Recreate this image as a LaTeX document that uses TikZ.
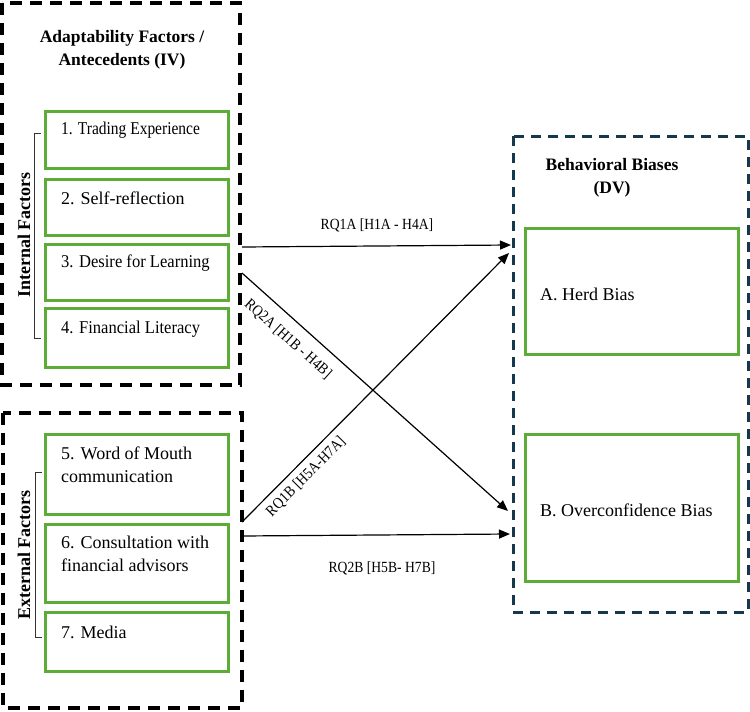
\documentclass[tikz,border=0pt]{standalone}
\usepackage{fontspec}
\setmainfont{Liberation Serif}
\usetikzlibrary{arrows.meta}
\definecolor{boxgreen}{RGB}{92,172,56}
\definecolor{darkblue}{RGB}{22,56,76}
\tikzset{
  outerbox/.style={draw=black, line width=3.5pt, dash pattern=on 12pt off 8pt},
  dvbox/.style={draw=darkblue, line width=3pt, dash pattern=on 10pt off 7pt},
  greenbox/.style={draw=boxgreen, line width=3pt},
  itemtext/.style={anchor=west, inner sep=0pt, font=\fontsize{18}{23}\selectfont, align=left},
  titletext/.style={inner sep=0pt, font=\bfseries\fontsize{17.5}{23}\selectfont, align=center},
  sidetext/.style={inner sep=0pt, font=\bfseries\fontsize{18}{22}\selectfont, rotate=90},
  rqtext/.style={inner sep=0pt, font=\fontsize{15.5}{18}\selectfont},
  rqarrow/.style={-{Triangle[length=11pt,width=9pt]}, line width=1.2pt},
  bracket/.style={draw=black!80, line width=1pt}
}
\begin{document}
\begin{tikzpicture}[x=1pt,y=-1pt]
\useasboundingbox (0,0) rectangle (750,712);
% outer dashed containers
\draw[outerbox] (2,3) rectangle (240,385);
\draw[outerbox] (3,413) rectangle (242,708);
\draw[dvbox] (513,136) rectangle (748,612);

% titles
\node[titletext] (t1) at (122,50) {Adaptability Factors /\\Antecedents (IV)};
\node[titletext] (t2) at (612,178) {Behavioral Biases\\(DV)};

% internal factor boxes
\node[greenbox, minimum width=183pt, minimum height=57pt, anchor=north west, inner sep=0pt] (b1) at (43.5,109.5) {};
\node[greenbox, minimum width=183pt, minimum height=56pt, anchor=north west, inner sep=0pt] (b2) at (43.5,178) {};
\node[greenbox, minimum width=183pt, minimum height=56pt, anchor=north west, inner sep=0pt] (b3) at (43.5,243) {};
\node[greenbox, minimum width=183pt, minimum height=59pt, anchor=north west, inner sep=0pt] (b4) at (43.5,307) {};
\node[itemtext] (l1) at (61,130) {\scalebox{0.86}[1]{1. Trading Experience}};
\node[itemtext] (l2) at (61,198) {2. Self-reflection};
\node[itemtext] (l3) at (61,263) {\scalebox{0.92}[1]{3. Desire for Learning}};
\node[itemtext] (l4) at (61,329) {\scalebox{0.92}[1]{4. Financial Literacy}};

% external factor boxes
\node[greenbox, minimum width=183pt, minimum height=80pt, anchor=north west, inner sep=0pt] (b5) at (44,433) {};
\node[greenbox, minimum width=183pt, minimum height=78pt, anchor=north west, inner sep=0pt] (b6) at (44,523) {};
\node[greenbox, minimum width=183pt, minimum height=59pt, anchor=north west, inner sep=0pt] (b7) at (44,611) {};
\node[itemtext] (l5) at (61,465) {5. Word of Mouth\\communication};
\node[itemtext] (l6) at (61,553.5) {6. Consultation with\\financial advisors};
\node[itemtext] (l7) at (61,632) {7. Media};

% dependent variable boxes
\node[greenbox, minimum width=213pt, minimum height=126pt, anchor=north west, inner sep=0pt] (ba) at (524,227) {};
\node[greenbox, minimum width=213pt, minimum height=147pt, anchor=north west, inner sep=0pt] (bb) at (524,433) {};
\node[itemtext] (la) at (540,294) {A. Herd Bias};
\node[itemtext] (lb) at (540,510) {B. Overconfidence Bias};

% brackets and side labels
\coordinate (ia) at (41,133);
\coordinate (ib) at (41,338);
\draw[bracket] (ia) -- ++(-7,0) |- (ib);
\coordinate (ea) at (42,472);
\coordinate (eb) at (42,637);
\draw[bracket] (ea) -- ++(-7,0) |- (eb);
\node[sidetext] (si) at (24,235) {Internal Factors};
\node[sidetext] (se) at (24,555) {External Factors};

% connectors
\coordinate (s1) at (242,247);
\coordinate (s2) at (242,273);
\coordinate (s3) at (242,522);
\coordinate (s4) at (242,536);
\coordinate (e1) at (511,245);
\coordinate (e2) at (508,511);
\coordinate (e3) at (509,253);
\coordinate (e4) at (510,534);
\draw[rqarrow] (s1) -- (e1);
\draw[rqarrow] (s2) -- (e2);
\draw[rqarrow] (s3) -- (e3);
\draw[rqarrow] (s4) -- (e4);

% connector labels
\node[rqtext] (r1) at (377,225) {\scalebox{0.88}[1]{RQ1A [H1A - H4A]}};
\node[rqtext] (r4) at (382,568) {\scalebox{0.88}[1]{RQ2B [H5B- H7B]}};
\node[rqtext, rotate=-41.8] (r2) at (288,339) {\scalebox{0.88}[1]{RQ2A [H1B - H4B]}};
\node[rqtext, rotate=45.2] (r3) at (306,477) {\scalebox{0.88}[1]{RQ1B [H5A-H7A]}};
\end{tikzpicture}
\end{document}
